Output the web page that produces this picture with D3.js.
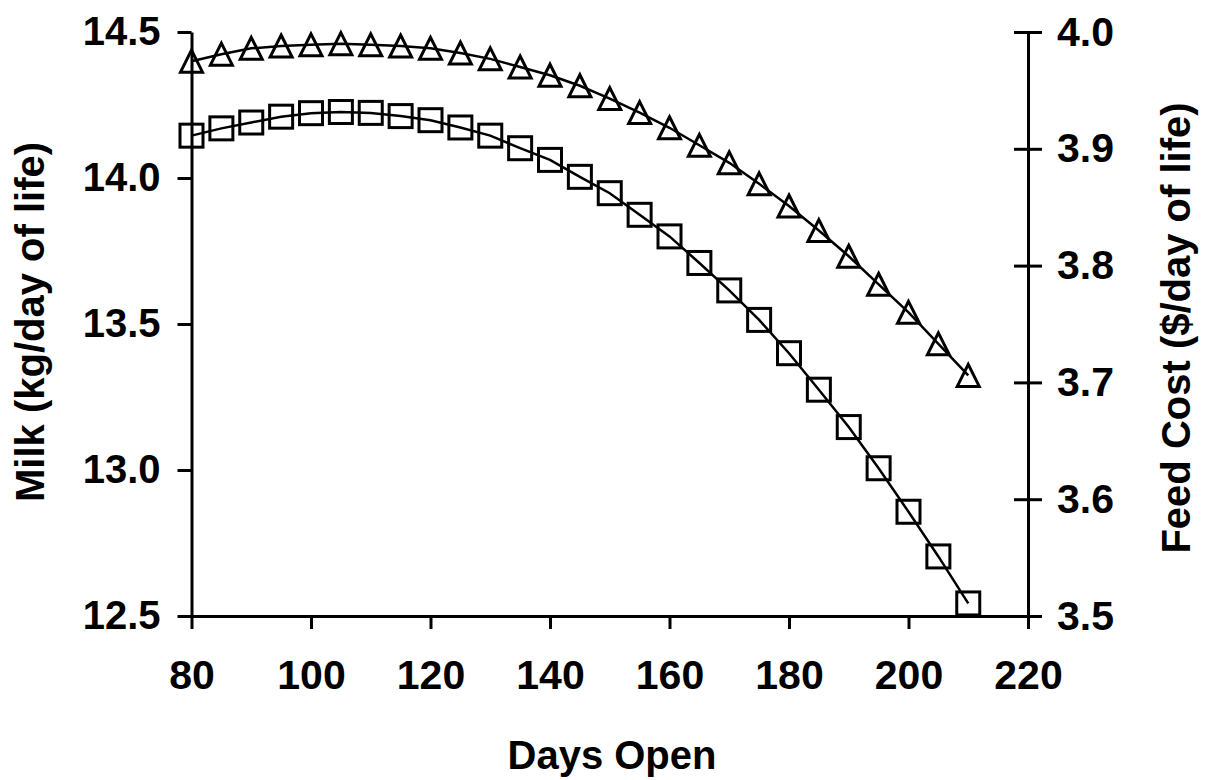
<!DOCTYPE html>
<html>
<head>
<meta charset="utf-8">
<script src="https://cdn.jsdelivr.net/npm/d3@7"></script>
<style>
  body { margin: 0; background: #fff; }
  svg text { font-family: "Liberation Sans", Arial, sans-serif; font-weight: bold; fill: #000; }
</style>
</head>
<body>
<div id="container"><svg></svg></div>
<script>
let width = 1207;
let height = 780;

// days open (x), milk (squares, left axis), feed cost (triangles, right axis)
let days = [80, 85, 90, 95, 100, 105, 110, 115, 120, 125, 130, 135, 140, 145,
            150, 155, 160, 165, 170, 175, 180, 185, 190, 195, 200, 205, 210];
let milk = [14.145, 14.170, 14.190, 14.210, 14.222, 14.226, 14.223, 14.212, 14.198,
            14.173, 14.145, 14.102, 14.062, 14.004, 13.948, 13.874, 13.800, 13.709,
            13.615, 13.514, 13.400, 13.275, 13.147, 13.006, 12.857, 12.704, 12.543];
let feed = [3.975, 3.981, 3.986, 3.988, 3.989, 3.990, 3.989, 3.988, 3.986, 3.982,
            3.977, 3.970, 3.963, 3.954, 3.943, 3.931, 3.918, 3.903, 3.888, 3.870,
            3.851, 3.830, 3.808, 3.784, 3.760, 3.733, 3.706];

let xTicks = [80, 100, 120, 140, 160, 180, 200, 220];
let milkTicks = [12.5, 13.0, 13.5, 14.0, 14.5];
let feedTicks = [3.5, 3.6, 3.7, 3.8, 3.9, 4.0];

function draw_chart() {
    let svg = d3.select('#container')
        .select('svg')
        .attr('width', width)
        .attr('height', height);

    let x = d3.scaleLinear().domain([80, 220]).range([191.5, 1028]);
    let yL = d3.scaleLinear().domain([12.5, 14.5]).range([616, 32]);
    let yR = d3.scaleLinear().domain([3.5, 4.0]).range([616, 32]);

    // axes
    let gx = svg.append("g")
        .attr("transform", "translate(0," + yL(12.5) + ")")
        .call(d3.axisBottom(x).tickValues(xTicks).tickSize(13).tickSizeOuter(0).tickPadding(31));
    gx.selectAll("text").style("font-size", "41px");

    let gl = svg.append("g")
        .attr("transform", "translate(" + x(80) + ",0)")
        .call(d3.axisLeft(yL).tickValues(milkTicks).tickSize(14).tickSizeOuter(0)
            .tickPadding(17).tickFormat(d3.format(".1f")));
    gl.selectAll("text").style("font-size", "40px");

    let gr = svg.append("g")
        .attr("transform", "translate(" + x(220) + ",0)")
        .call(d3.axisRight(yR).tickValues(feedTicks).tickSize(14).tickSizeOuter(0)
            .tickPadding(15).tickFormat(d3.format(".1f")));
    gr.selectAll("text").style("font-size", "41px");
    // right ticks cross the axis
    gr.selectAll(".tick line").attr("x1", -14);

    svg.selectAll(".domain, .tick line")
        .attr("stroke", "#000")
        .attr("stroke-width", 3);

    // lines
    let lineMilk = d3.line().x((d, i) => x(days[i])).y(d => yL(d));
    let lineFeed = d3.line().x((d, i) => x(days[i])).y(d => yR(d));

    svg.append("path")
        .datum(milk)
        .attr("d", lineMilk)
        .attr("fill", "none")
        .attr("stroke", "#000")
        .attr("stroke-width", 2.5);

    svg.append("path")
        .datum(feed)
        .attr("d", lineFeed)
        .attr("fill", "none")
        .attr("stroke", "#000")
        .attr("stroke-width", 2.5);

    // square markers
    let s = 23;
    svg.append("g")
        .selectAll("rect")
        .data(milk)
        .join("rect")
        .attr("x", (d, i) => x(days[i]) - s / 2)
        .attr("y", d => yL(d) - s / 2)
        .attr("width", s)
        .attr("height", s)
        .attr("fill", "none")
        .attr("stroke", "#000")
        .attr("stroke-width", 3);

    // triangle markers
    let tw = 22, th = 22;
    let tri = "M0," + (-th / 2) + "L" + (tw / 2) + "," + (th / 2) + "L" + (-tw / 2) + "," + (th / 2) + "Z";
    svg.append("g")
        .selectAll("path")
        .data(feed)
        .join("path")
        .attr("d", tri)
        .attr("transform", (d, i) => "translate(" + x(days[i]) + "," + yR(d) + ")")
        .attr("fill", "none")
        .attr("stroke", "#000")
        .attr("stroke-width", 3)
        .attr("stroke-linejoin", "miter");

    // titles
    svg.append("text")
        .attr("x", 612)
        .attr("y", 769)
        .attr("text-anchor", "middle")
        .style("font-size", "40px")
        .text("Days Open");

    svg.append("text")
        .attr("transform", "translate(44,322) rotate(-90)")
        .attr("text-anchor", "middle")
        .style("font-size", "40px")
        .text("Milk (kg/day of life)");

    svg.append("text")
        .attr("transform", "translate(1190,328) rotate(-90)")
        .attr("text-anchor", "middle")
        .style("font-size", "40px")
        .text("Feed Cost ($/day of life)");
}

draw_chart();
</script>
</body>
</html>
